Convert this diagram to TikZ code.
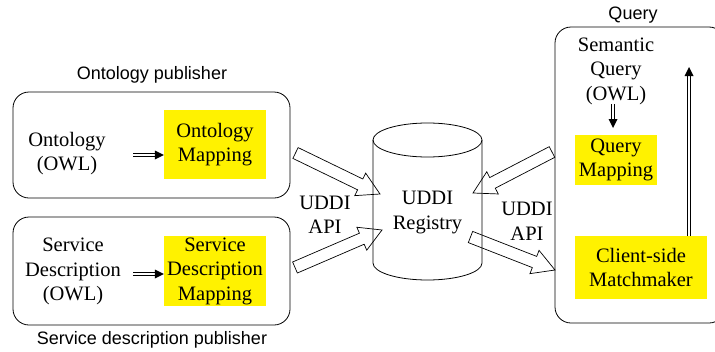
\documentclass[tikz,border=0pt]{standalone}
\usepackage{fontspec}
\setmainfont{Liberation Serif}
\setsansfont{Liberation Sans}
\usetikzlibrary{calc,arrows.meta}
\newcommand{\bigarrow}[2]{%
  \coordinate (hb) at ($(#2)!22pt!(#1)$);
  \draw[bigarr] ($(#1)!6pt!90:(#2)$) -- ($(hb)!6pt!-90:(#1)$) -- ($(hb)!12.5pt!-90:(#1)$) -- (#2)
    -- ($(hb)!12.5pt!90:(#1)$) -- ($(hb)!6pt!90:(#1)$) -- ($(#1)!6pt!-90:(#2)$) -- cycle;}
\newcommand{\dblarrow}[2]{%
  \coordinate (dh) at ($(#2)!6pt!(#1)$);
  \draw[dblline] ($(#1)!1.2pt!90:(#2)$) -- ($(dh)!1.2pt!-90:(#1)$);
  \draw[dblline] ($(#1)!1.2pt!-90:(#2)$) -- ($(dh)!1.2pt!90:(#1)$);
  \fill ($(#2)!9pt!(#1)$) coordinate (dt) ($(dt)!4.5pt!90:(#2)$) -- (#2) -- ($(dt)!4.5pt!-90:(#2)$) -- cycle;}
\begin{document}
\begin{tikzpicture}[x=1pt,y=-1pt,
  every node/.style={inner sep=0pt, align=center, font=\fontsize{20.5}{24.5}\selectfont},
  pubbox/.style={draw, rounded corners=16pt, line width=0.8pt},
  ymap/.style={fill=yellow},
  lbl/.style={font=\sffamily\fontsize{18}{21}\selectfont},
  bigarr/.style={line width=0.7pt, line join=miter},
  dblline/.style={line width=0.7pt}
]
\useasboundingbox (0,0) rectangle (715,351);

% Ontology publisher
\node[pubbox, minimum width=277pt, minimum height=106pt] (opub) at (151.5,145) {};
\node[lbl] (opubl) at (152,75) {Ontology publisher};
\node (ont) at (67,153.5) {Ontology\\(OWL)};
\node[ymap, minimum width=102pt, minimum height=69pt] (ontmap) at (215,144.5) {Ontology\\Mapping};
\coordinate (o1) at (133,155);
\coordinate (o2) at (ontmap.west |- o1);
\dblarrow{o1}{o2}

% Service description publisher
\node[pubbox, minimum width=277pt, minimum height=108pt] (spub) at (151.5,271) {};
\node[lbl] (spubl) at (152,340) {Service description publisher};
\node (sd) at (73,271.5) {Service\\Description\\(OWL)};
\node[ymap, minimum width=102pt, minimum height=70pt] (sdmap) at (215,271) {Service\\Description\\Mapping};
\coordinate (s1) at (133,274);
\coordinate (s2) at (sdmap.west |- s1);
\dblarrow{s1}{s2}

% UDDI registry cylinder
\draw[line width=0.8pt] (373,140) -- (373,263) arc[start angle=180, end angle=360, x radius=54.5pt, y radius=17pt] -- (482,140);
\draw[line width=0.8pt] (427.5,140) ellipse[x radius=54.5pt, y radius=17pt];
\node (reg) at (427.5,212.5) {UDDI\\Registry};

\node (apil) at (325,215) {UDDI\\API};
\node (apir) at (527,221.5) {UDDI\\API};

% Query box
\begin{scope}
\clip (0,0) rectangle (715,351);
\node[pubbox, minimum width=170pt, minimum height=296pt] (qbox) at (640,175) {};
\end{scope}
\node[lbl] (ql) at (633,15) {Query};
\node (sq) at (616,71) {Semantic\\Query\\(OWL)};
\node[ymap, minimum width=82pt, minimum height=50pt] (qmap) at (616,160) {Query\\Mapping};
\node[ymap, minimum width=132pt, minimum height=63pt] (mm) at (641,267.5) {Client-side\\Matchmaker};
\coordinate (q1) at (613,104);
\coordinate (q2) at (613,128);
\dblarrow{q1}{q2}
\coordinate (m1) at (689,236);
\coordinate (m2) at (689,67);
\dblarrow{m1}{m2}

% big hollow arrows
\coordinate (a1s) at (295.5,153);
\coordinate (a1e) at (380,194);
\coordinate (a2s) at (295,267.5);
\coordinate (a2e) at (382,230);
\coordinate (a3s) at (552,152);
\coordinate (a3e) at (473,193);
\coordinate (a4s) at (470.5,237);
\coordinate (a4e) at (555,270);
\bigarrow{a1s}{a1e}
\bigarrow{a2s}{a2e}
\bigarrow{a3s}{a3e}
\bigarrow{a4s}{a4e}
\end{tikzpicture}
\end{document}
